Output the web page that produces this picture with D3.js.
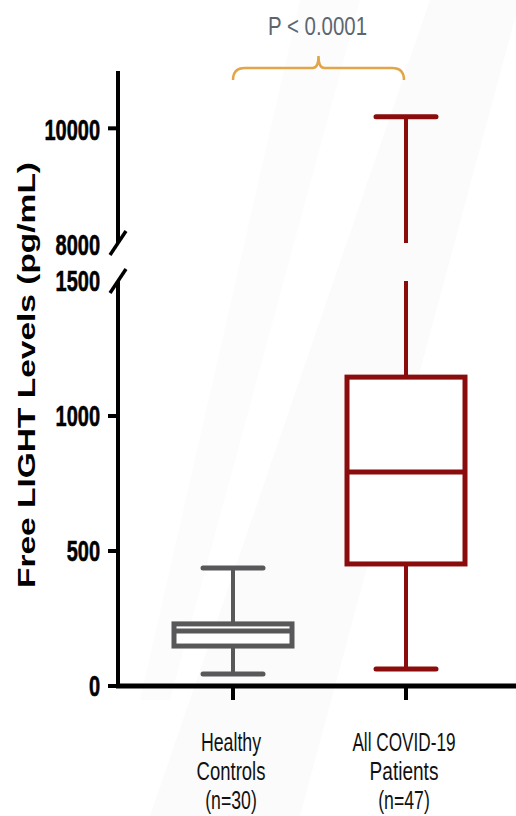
<html>
<head>
<script src="https://d3js.org/d3.v7.min.js"></script>
<style>
  body { margin: 0; background: #fff; }
  svg { display: block; }
</style>
</head>
<body>
<svg id="svg" width="516" height="816"></svg>
<script>
// data
var groups = ["Healthy Controls", "All COVID-19 Patients"];
var groupLines = [["Healthy", "Controls", "(n=30)"], ["All COVID-19", "Patients", "(n=47)"]];
var whiskerLow = [44, 63];
var q1 = [148, 452];
var median = [204, 793];
var q3 = [230, 1144];
var whiskerHigh = [437, 10200];
var lowerTicks = [0, 500, 1000, 1500];
var upperTicks = [8000, 10000];
var colors = ["#58585a", "#8b0c0c"];
var pLabel = "P < 0.0001";

var svg = d3.select("#svg");
var axisX = 118;

// broken y axis: two scales
var yLow = d3.scaleLinear().domain([0, 1500]).range([686, 281]);
var yHigh = d3.scaleLinear().domain([8000, 11000]).range([243, 71]);
var x = d3.scalePoint().domain(groups).range([233, 406]);

// faint background streaks
svg.append("path")
    .attr("d", "M430,0 L520,0 L300,816 L150,816 Z")
    .attr("fill", "#fbfbfb");
svg.append("path")
    .attr("d", "M300,0 L360,0 L170,700 L140,700 Z")
    .attr("fill", "#fcfcfc");

function stretchText(g, tx, ty, str, size, weight, anchor, sy, fill) {
    return g.append("text")
        .attr("transform", "translate(" + tx + "," + ty + ") scale(1," + sy + ")")
        .attr("text-anchor", anchor)
        .attr("dy", "0.35em")
        .attr("font-family", "'Liberation Sans', Arial, sans-serif")
        .attr("font-size", size)
        .attr("font-weight", weight)
        .attr("fill", fill || "#000")
        .text(str);
}

// axis lines
var axis = svg.append("g").attr("stroke", "#000").attr("stroke-width", 4);
axis.append("line").attr("x1", axisX).attr("x2", axisX)
    .attr("y1", yHigh(11000)).attr("y2", yHigh(8000));
axis.append("line").attr("x1", axisX).attr("x2", axisX)
    .attr("y1", yLow(1500)).attr("y2", yLow(0) + 2);
axis.append("line").attr("x1", axisX - 2).attr("x2", 516)
    .attr("y1", yLow(0)).attr("y2", yLow(0)).attr("stroke-width", 5);

// break slashes
[yHigh(8000), yLow(1500)].forEach(function(yy) {
    axis.append("line").attr("x1", axisX - 8).attr("y1", yy + 12)
        .attr("x2", axisX + 8).attr("y2", yy - 12).attr("stroke-width", 3.5);
});

// ticks + labels
lowerTicks.forEach(function(t) {
    if (t !== 1500) {
        axis.append("line").attr("x1", axisX - 10).attr("x2", axisX)
            .attr("y1", yLow(t)).attr("y2", yLow(t));
    }
    stretchText(svg, 100, yLow(t), t, 20, "bold", "end", 1.45)
        .attr("stroke", "#000").attr("stroke-width", 0.4);
});
upperTicks.forEach(function(t) {
    if (t !== 8000) {
        axis.append("line").attr("x1", axisX - 10).attr("x2", axisX)
            .attr("y1", yHigh(t)).attr("y2", yHigh(t));
    }
    stretchText(svg, 100, yHigh(t) + 2, t, 20, "bold", "end", 1.45)
        .attr("stroke", "#000").attr("stroke-width", 0.4);
});

// x ticks
groups.forEach(function(gname) {
    axis.append("line").attr("x1", x(gname)).attr("x2", x(gname))
        .attr("y1", yLow(0)).attr("y2", yLow(0) + 14);
});

// y title
svg.append("text")
    .attr("transform", "translate(35,375) rotate(-90)")
    .attr("text-anchor", "middle")
    .attr("font-family", "'Liberation Sans', Arial, sans-serif")
    .attr("font-size", 24)
    .attr("font-weight", "bold")
    .attr("textLength", 426)
    .attr("lengthAdjust", "spacingAndGlyphs")
    .text("Free LIGHT Levels (pg/mL)");

// map value to y on the broken axis
function yv(v) { return v > 1500 ? yHigh(v) : yLow(v); }

// boxes
var boxW = 118, capW = 60;
groups.forEach(function(gname, i) {
    var cx = x(gname);
    var g = svg.append("g").attr("stroke", colors[i]).attr("fill", "none")
        .attr("stroke-linecap", "round");
    // lower whisker
    g.append("line").attr("x1", cx).attr("x2", cx)
        .attr("y1", yv(q1[i])).attr("y2", yv(whiskerLow[i])).attr("stroke-width", 4);
    g.append("line").attr("x1", cx - capW / 2).attr("x2", cx + capW / 2)
        .attr("y1", yv(whiskerLow[i])).attr("y2", yv(whiskerLow[i])).attr("stroke-width", 5);
    // upper whisker (split at the axis break)
    if (whiskerHigh[i] > 1500) {
        g.append("line").attr("x1", cx).attr("x2", cx)
            .attr("y1", yv(q3[i])).attr("y2", yLow(1500)).attr("stroke-width", 4)
            .attr("stroke-linecap", "butt");
        g.append("line").attr("x1", cx).attr("x2", cx)
            .attr("y1", yHigh(8000)).attr("y2", yv(whiskerHigh[i])).attr("stroke-width", 4)
            .attr("stroke-linecap", "butt");
    } else {
        g.append("line").attr("x1", cx).attr("x2", cx)
            .attr("y1", yv(q3[i])).attr("y2", yv(whiskerHigh[i])).attr("stroke-width", 4);
    }
    g.append("line").attr("x1", cx - capW / 2).attr("x2", cx + capW / 2)
        .attr("y1", yv(whiskerHigh[i])).attr("y2", yv(whiskerHigh[i])).attr("stroke-width", 5);
    // box
    g.append("rect").attr("x", cx - boxW / 2).attr("width", boxW)
        .attr("y", yv(q3[i])).attr("height", yv(q1[i]) - yv(q3[i]))
        .attr("fill", "#fff").attr("stroke-width", 5);
    g.append("line").attr("x1", cx - boxW / 2).attr("x2", cx + boxW / 2)
        .attr("y1", yv(median[i])).attr("y2", yv(median[i])).attr("stroke-width", 5)
        .attr("stroke-linecap", "butt");
});

// category labels
groups.forEach(function(gname, i) {
    groupLines[i].forEach(function(line, j) {
        stretchText(svg, x(gname) - 2, 742 + j * 29, line, 19, "normal", "middle", 1.35, "#111")
            .attr("textLength", line.length * 8.6)
            .attr("lengthAdjust", "spacingAndGlyphs");
    });
});

// significance bracket
var bx1 = x(groups[0]), bx2 = x(groups[1]) - 2, bm = (bx1 + bx2) / 2;
svg.append("path")
    .attr("d", "M" + bx1 + ",80 Q" + bx1 + ",68 " + (bx1 + 12) + ",68 L" + (bm - 6) + ",68 Q" + bm + ",68 " + bm + ",56 Q" + bm + ",68 " + (bm + 6) + ",68 L" + (bx2 - 12) + ",68 Q" + bx2 + ",68 " + bx2 + ",80")
    .attr("fill", "none").attr("stroke", "#e2a548").attr("stroke-width", 2.5);

svg.append("text")
    .attr("transform", "translate(" + (bm - 1) + ",35) scale(1,1.3)")
    .attr("text-anchor", "middle")
    .attr("font-family", "'Liberation Sans', Arial, sans-serif")
    .attr("font-size", 20)
    .attr("fill", "#5b6670")
    .attr("textLength", 99)
    .attr("lengthAdjust", "spacingAndGlyphs")
    .text(pLabel);
</script>
</body>
</html>
